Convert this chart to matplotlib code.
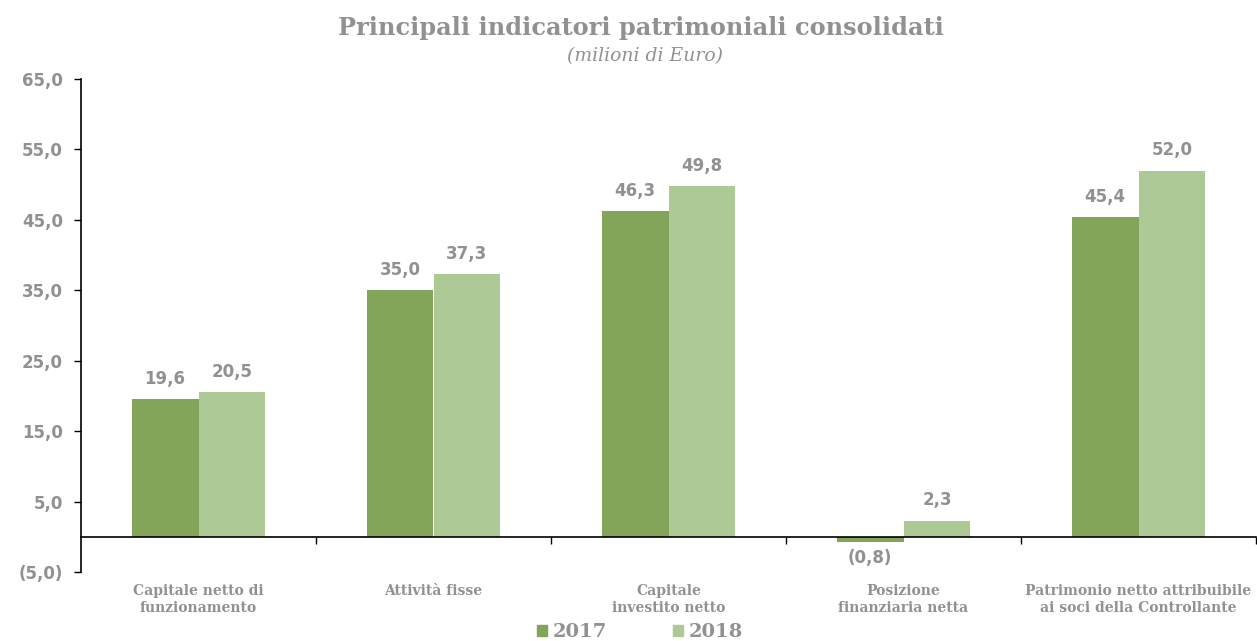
import matplotlib
matplotlib.use("Agg")
import matplotlib.pyplot as plt
import numpy as np
from matplotlib.patches import Patch
from matplotlib.ticker import FuncFormatter, FixedLocator

categories = ["Capitale netto di\nfunzionamento", "Attività fisse", "Capitale\ninvestito netto",
              "Posizione\nfinanziaria netta", "Patrimonio netto attribuibile\nai soci della Controllante"]
series_names = ["2017", "2018"]
values_2017 = [19.6, 35.0, 46.3, -0.8, 45.4]
values_2018 = [20.5, 37.3, 49.8, 2.3, 52.0]
y_ticks = [-5, 5, 15, 25, 35, 45, 55, 65]

c2017 = "#82A55A"
c2018 = "#ADC995"
gray = "#919191"

def fmt(v):
    s = f"{abs(v):.1f}".replace(".", ",")
    return f"({s})" if v < 0 else s

fig = plt.figure(figsize=(12.57, 6.41), dpi=100)
ax = fig.add_axes([81/1257, 69/641, 1175/1257, 493/641])

x = np.arange(len(categories))
w = 0.285
b1 = ax.bar(x - w/2, values_2017, w, color=c2017, zorder=2, linewidth=0)
b2 = ax.bar(x + w/2, values_2018, w, color=c2018, zorder=2, linewidth=0)

for bars, vals in ((b1, values_2017), (b2, values_2018)):
    for rect, v in zip(bars, vals):
        cx = rect.get_x() + rect.get_width()/2
        if v >= 0:
            ax.annotate(fmt(v), (cx, v), xytext=(0, 8), textcoords="offset points",
                        ha="center", va="bottom", fontsize=12, fontweight="bold",
                        color=gray, family="DejaVu Sans")
        else:
            ax.annotate(fmt(v), (cx, v), xytext=(0, -5), textcoords="offset points",
                        ha="center", va="top", fontsize=12, fontweight="bold",
                        color=gray, family="DejaVu Sans")

ax.set_xlim(-0.5, len(categories) - 0.5)
ax.set_ylim(-5, 65)
ax.yaxis.set_major_locator(FixedLocator(y_ticks))
ax.yaxis.set_major_formatter(FuncFormatter(lambda v, p: fmt(v)))
ax.tick_params(axis="y", direction="out", length=5, width=1, colors="black",
               labelcolor=gray, labelsize=12, pad=8)
for lab in ax.get_yticklabels():
    lab.set_fontweight("bold")

ax.spines["top"].set_visible(False)
ax.spines["right"].set_visible(False)
ax.spines["bottom"].set_position(("data", 0))
ax.spines["left"].set_linewidth(1.2)
ax.spines["bottom"].set_linewidth(1.2)
ax.set_xticks(np.arange(len(categories)) + 0.5)
ax.set_xticklabels([])
ax.tick_params(axis="x", direction="out", length=5, width=1)

for xi, cat in zip(x, categories):
    ax.text(xi, -0.025, cat, transform=ax.get_xaxis_transform(), ha="center", va="top",
            fontsize=10, fontweight="bold", color=gray, family="DejaVu Serif",
            linespacing=1.25)

fig.text(0.51, 0.956, "Principali indicatori patrimoniali consolidati", ha="center", va="center",
         fontsize=17.3, fontweight="heavy", color=gray, family="DejaVu Serif")
fig.text(0.513, 0.913, "(milioni di Euro)", ha="center", va="center",
         fontsize=13.5, style="italic", color=gray, family="DejaVu Serif")

handles = [Patch(color=c2017), Patch(color=c2018)]
leg = fig.legend(handles, series_names, loc="center", bbox_to_anchor=(0.509, 0.014),
                 ncol=2, frameon=False, handlelength=0.5, handleheight=0.5,
                 handletextpad=0.3, columnspacing=3.4,
                 prop={"family": "DejaVu Serif", "weight": "bold", "size": 14})
for t in leg.get_texts():
    t.set_color(gray)

fig.savefig("out.png", dpi=100)
